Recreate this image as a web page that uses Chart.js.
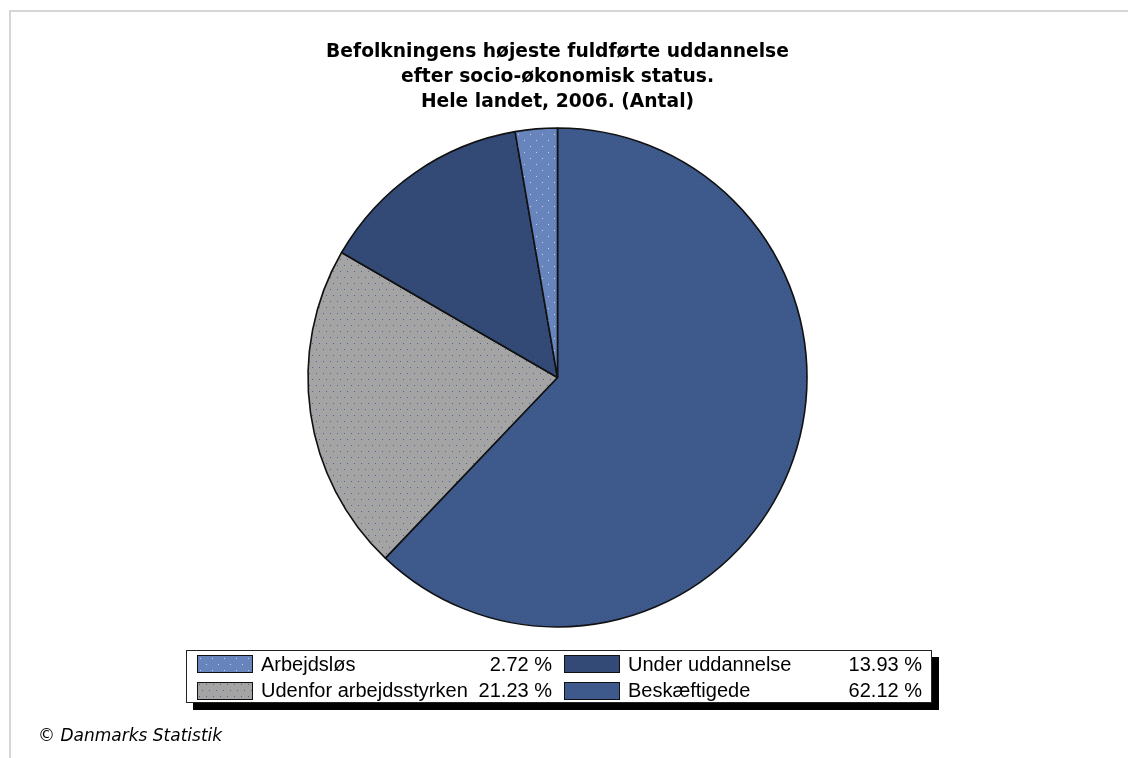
<!DOCTYPE html>
<html>
<head>
<meta charset="utf-8">
<script src="https://cdn.jsdelivr.net/npm/chart.js@4.4.1/dist/chart.umd.min.js"></script>
<style>
  html, body { margin: 0; padding: 0; background: #fff; }
  #wrap { position: relative; width: 1128px; height: 758px; overflow: hidden; }
  #frame { position: absolute; left: 9px; top: 10px; right: -10px; bottom: -10px;
           border-left: 2px solid #d6d6d6; border-top: 2px solid #d6d6d6; }
  #chart { position: absolute; left: 0; top: 0; }
  #legend { position: absolute; left: 186px; top: 650px; width: 744px; height: 51px;
            border: 1px solid #222; background: #fff; box-shadow: 7px 7px 0 #000;
            font-family: "Liberation Sans", Arial, sans-serif; font-size: 20px; color: #000; }
  .sw { position: absolute; width: 54px; height: 16px; border: 1px solid #111; }
  .lab, .pct { position: absolute; line-height: 20px; white-space: nowrap; }
  .pct { text-align: right; }
  #footer { position: absolute; left: 38px; top: 727px; font-family: "DejaVu Sans", sans-serif;
            font-style: italic; font-size: 17px; line-height: 16px; color: #000; }
</style>
</head>
<body>
<div id="wrap">
  <div id="frame"></div>
  <canvas id="chart" width="1128" height="758"></canvas>
  <div id="legend"></div>
  <div id="footer">© Danmarks Statistik</div>
</div>
<script>
// legend order (as in the original), shares in percent
const labels = ["Arbejdsløs", "Under uddannelse", "Udenfor arbejdsstyrken", "Beskæftigede"];
const shares = [2.72, 13.93, 21.23, 62.12];
const titleLines = ["Befolkningens højeste fuldførte uddannelse", "efter socio-økonomisk status.", "Hele landet, 2006. (Antal)"];

// small dotted fills like the old chart
function makeTile(base, dot, w, h, dots) {
  const c = document.createElement("canvas");
  c.width = w; c.height = h;
  const g = c.getContext("2d");
  g.fillStyle = base;
  g.fillRect(0, 0, w, h);
  g.fillStyle = dot;
  dots.forEach(function (d) { g.fillRect(d[0], d[1], 1, 1); });
  return c;
}
const tiles = [
  makeTile("#6884bc", "#c9d5ee", 12, 12, [[2, 2], [8, 8]]),
  makeTile("#344a76", "#2b3e64", 8, 8, [[1, 1], [5, 5]]),
  makeTile("#a4a4a4", "#4f6493", 14, 12, [[1, 1], [8, 1], [4, 7], [11, 7]]),
  makeTile("#3f5a8c", "#38507f", 4, 4, [[0, 0], [2, 2]])
];
const ctx = document.getElementById("chart").getContext("2d");
const fills = tiles.map(function (t) { return ctx.createPattern(t, "repeat"); });

// the original runs counter-clockwise from 12 o'clock, Chart.js runs clockwise -> reverse
const order = [3, 2, 1, 0];

new Chart(ctx, {
  type: "pie",
  data: {
    labels: order.map(i => labels[i]),
    datasets: [{
      data: order.map(i => shares[i]),
      backgroundColor: order.map(i => fills[i]),
      borderColor: "#111",
      borderWidth: 1.6
    }]
  },
  options: {
    responsive: false,
    animation: false,
    radius: 249.5,
    layout: { padding: { left: 0, right: 13, top: 0, bottom: 122.5 } },
    plugins: {
      legend: { display: false },
      title: {
        display: true,
        text: titleLines,
        color: "#000",
        font: { family: "DejaVu Sans", weight: "bold", size: 18.7, lineHeight: 25 / 18.7 },
        padding: { top: 39.5, bottom: 5 }
      }
    }
  }
});

// legend box: two columns, label + share
const legend = document.getElementById("legend");
const cols = [{ sw: 10, lab: 74, right: 365 }, { sw: 377, lab: 441, right: 735 }];
labels.forEach(function (name, i) {
  const col = cols[i % 2];
  const row = Math.floor(i / 2);
  const sw = document.createElement("div");
  sw.className = "sw";
  sw.style.left = col.sw + "px";
  sw.style.top = (4 + row * 27) + "px";
  sw.style.backgroundImage = "url(" + tiles[i].toDataURL() + ")";
  legend.appendChild(sw);
  const lab = document.createElement("div");
  lab.className = "lab";
  lab.style.left = col.lab + "px";
  lab.style.top = (3 + row * 26) + "px";
  lab.textContent = name;
  legend.appendChild(lab);
  const pct = document.createElement("div");
  pct.className = "pct";
  pct.style.right = (744 - col.right) + "px";
  pct.style.top = (3 + row * 26) + "px";
  pct.textContent = shares[i].toFixed(2) + " %";
  legend.appendChild(pct);
});
</script>
</body>
</html>
